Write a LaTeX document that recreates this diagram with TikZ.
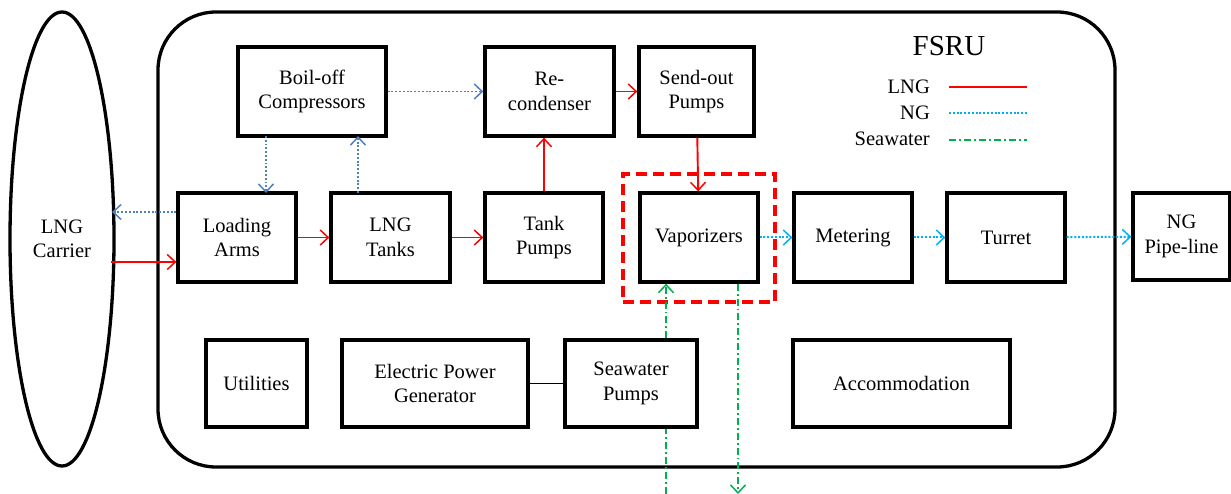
\documentclass[tikz,border=0pt]{standalone}
\usepackage{fontspec}
\setmainfont{Liberation Serif}
\usetikzlibrary{shapes.geometric,arrows.meta}
\definecolor{lngred}{RGB}{255,0,0}
\definecolor{bogblue}{RGB}{79,129,189}
\definecolor{ngcyan}{RGB}{0,176,240}
\definecolor{swgreen}{RGB}{0,176,80}
\tikzset{
  blk/.style={draw, line width=3.3pt, fill=white, align=center, font=\fontsize{20.5}{24.5}\selectfont, inner sep=0pt},
  tip/.style={-{Straight Barb[length=8pt,width=15pt,line width=1.5pt]}},
  lng/.style={tip, draw=lngred, line width=1.9pt},
  bog/.style={tip, draw=bogblue, line width=1.9pt, dash pattern=on 1.9pt off 1.9pt},
  ng/.style={tip, draw=ngcyan, line width=2pt, dash pattern=on 2pt off 1.8pt},
  swline/.style={draw=swgreen, line width=1.9pt, dash pattern=on 7pt off 3pt on 1.9pt off 3pt},
  sw/.style={tip, swline},
  lbl/.style={font=\fontsize{20.5}{24}\selectfont, anchor=east, inner sep=0pt}
}
\begin{document}
\begin{tikzpicture}[x=1pt,y=-1pt]
\useasboundingbox (0,0) rectangle (1231,494);
% FSRU outline
\draw[line width=3.3pt, rounded corners=58pt] (158,12) rectangle (1115,467);
\node[font=\fontsize{29}{32}\selectfont] (fsru) at (949,46) {FSRU};
% carrier
\node[draw, ellipse, line width=3.3pt, minimum width=104pt, minimum height=454pt, align=center, font=\fontsize{20.5}{24.5}\selectfont, inner sep=0pt] (carrier) at (62,239) {LNG\\Carrier};
% boxes
\node[blk, minimum width=148pt, minimum height=89pt] (boil) at (312,91.5) {Boil-off\\Compressors};
\node[blk, minimum width=129pt, minimum height=89pt] (recond) at (549.5,91.5) {Re-\\condenser};
\node[blk, minimum width=115pt, minimum height=89pt] (sendout) at (696.5,91.5) {Send-out\\Pumps};
\node[blk, minimum width=118pt, minimum height=89pt] (loading) at (237,237.5) {Loading\\Arms};
\node[blk, minimum width=119pt, minimum height=89pt] (tanks) at (390.5,237.5) {LNG\\Tanks};
\node[blk, minimum width=118pt, minimum height=89pt] (tpumps) at (544,237.5) {Tank\\Pumps};
\node[draw=lngred, line width=3.3pt, dash pattern=on 11pt off 6pt, minimum width=152pt, minimum height=128pt, inner sep=0pt] (dash) at (699,238) {};
\node[blk, minimum width=118pt, minimum height=89pt] (vap) at (699,237.5) {Vaporizers};
\node[blk, minimum width=118pt, minimum height=89pt] (meter) at (853,237.5) {Metering};
\node[blk, minimum width=118pt, minimum height=89pt] (turret) at (1006,237.5) {Turret};
\node[blk, minimum width=97pt, minimum height=87pt] (pipe) at (1181.5,236.5) {NG\\Pipe-line};
\node[blk, minimum width=101pt, minimum height=87pt] (util) at (256.5,383.5) {Utilities};
\node[blk, minimum width=186pt, minimum height=87pt] (gen) at (435,383.5) {Electric Power\\Generator};
\node[blk, minimum width=132pt, minimum height=87pt] (swp) at (631,383.5) {Seawater\\Pumps};
\node[blk, minimum width=217pt, minimum height=87pt] (accom) at (901.5,383.5) {Accommodation};
% LNG flow
\coordinate (cin) at (111,262);
\coordinate (cout) at (112,212);
\draw[lng] (cin) -- (cin -| loading.west);
\draw[lng] (loading) -- (tanks);
\draw[lng] (tanks) -- (tpumps);
\draw[lng] (tpumps.north) -- (tpumps.north |- recond.south);
\draw[lng] (recond) -- (sendout.west |- recond);
\draw[lng] (sendout) -- (vap);
% boil-off gas
\draw[bog] (loading.west |- cout) -- (cout);
\draw[bog] (266,136) -- (266,193);
\draw[bog] (358,193) -- (358,136);
\draw[bog] (boil) -- (recond);
% NG
\draw[ng] (vap) -- (meter);
\draw[ng] (meter) -- (turret);
\draw[ng] (turret) -- (pipe);
% seawater
\coordinate (swin) at (666,494);
\coordinate (swout) at (738,494);
\draw[swline] (swin) -- (swin |- swp.south);
\draw[sw] (swin |- swp.north) -- (swin |- vap.south);
\draw[sw] (swout |- vap.south) -- (swout);
% generator link
\draw[line width=1.8pt] (gen) -- (swp);
% legend
\node[lbl] (lg1) at (930,87) {LNG};
\node[lbl] (lg2) at (930,113) {NG};
\node[lbl] (lg3) at (930,139) {Seawater};
\coordinate (l1a) at (949,87); \coordinate (l1b) at (1027,87);
\coordinate (l2a) at (949,113); \coordinate (l2b) at (1027,113);
\coordinate (l3a) at (949,140); \coordinate (l3b) at (1027,140);
\draw[lngred, line width=1.9pt] (l1a) -- (l1b);
\draw[ngcyan, line width=2pt, dash pattern=on 2pt off 1.8pt] (l2a) -- (l2b);
\draw[swline] (l3a) -- (l3b);
\end{tikzpicture}
\end{document}
